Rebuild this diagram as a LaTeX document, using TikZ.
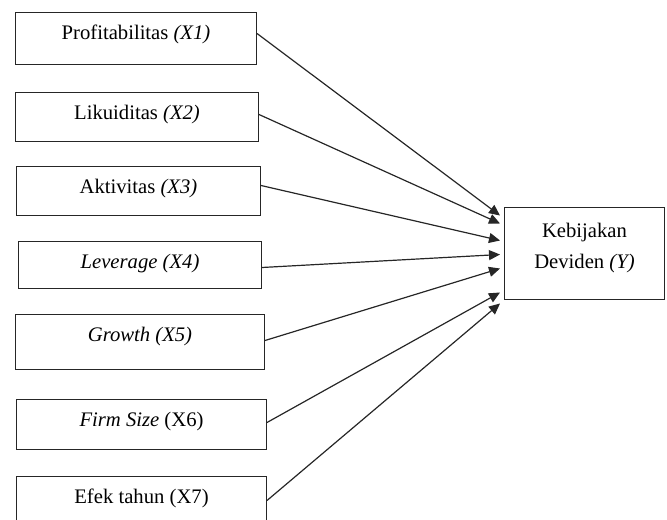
\documentclass[tikz,border=0pt]{standalone}
\usepackage{fontspec}
\setmainfont{Liberation Serif}
\usetikzlibrary{arrows.meta, positioning, calc}

\begin{document}
\begin{tikzpicture}[x=0.75pt, y=-0.75pt, b/.style={rectangle,draw=black!85,line width=0.75pt,inner sep=0pt,align=center,anchor=north west,font=\fontsize{15.5}{23}\selectfont,text height=20.5pt}]
  \useasboundingbox (0,0) rectangle (667,520);
  \node[b,minimum width=180.75pt,text depth=18.5pt](x1) at (15,12){Profitabilitas \textit{(X1)}};
  \node[b,minimum width=182.25pt,text depth=16.25pt](x2) at (15,92){Likuiditas \textit{(X2)}};
  \node[b,minimum width=183pt,text depth=16.25pt](x3) at (16,166){Aktivitas \textit{(X3)}};
  \node[b,minimum width=182.25pt,text depth=14.75pt](x4) at (18,241){\textit{Leverage (X4)}};
  \node[b,minimum width=186.75pt,text depth=20.75pt](x5) at (15,314){\textit{Growth (X5)}};
  \node[b,minimum width=187.5pt,text depth=17pt](x6) at (16,399){\textit{Firm Size} (X6)};
  \node[b,minimum width=187.5pt,text depth=13.25pt](x7) at (16,476){Efek tahun (X7)};
  \node[b,minimum width=120pt,minimum height=69pt,text height=,text depth=12pt](y) at (504,207){Kebijakan\\Deviden \textit{(Y)}};
  \foreach \s/\o/\e in {x1/-5/-38,x2/-2.5/-30,x3/-5.5/-13,x4/2.5/1,x5/-1.5/15,x6/-2/39,x7/1.5/50}{\draw[-{Triangle[length=8.25pt,width=7.5pt]},line width=0.9pt,black!85]($(\s.east)+(0,\o)$)--($(y.west)+(-4,\e)$);}
\end{tikzpicture}
\end{document}
